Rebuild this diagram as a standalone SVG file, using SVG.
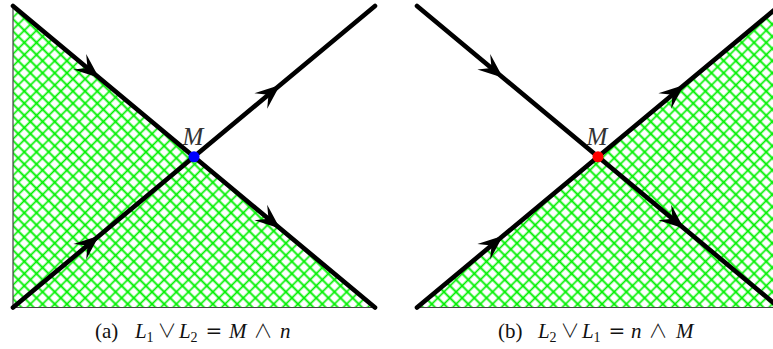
<svg xmlns="http://www.w3.org/2000/svg" xmlns:xlink="http://www.w3.org/1999/xlink" width="773" height="349" viewBox="0 0 773 349">
<style>
.hatch{fill:url(#xhatch);stroke:none}
.frame{stroke:#444;stroke-width:1.2;fill:none}
.edge{stroke:#000;stroke-width:4.6;stroke-linecap:round;fill:none}
.lbl{font-family:"Liberation Serif","DejaVu Serif",serif;font-style:italic;font-size:25px;fill:#333}
.cap{font-family:"Liberation Serif","DejaVu Serif",serif;font-size:21px;fill:#111}
.it{font-style:italic}
.sub{font-size:14px}
.op{text-anchor:middle}
.lg{font-family:"Noto Sans CJK JP","DejaVu Sans",sans-serif;font-size:19px;font-weight:300}
.eq{font-family:"DejaVu Serif","Liberation Serif",serif;font-size:20px}
</style>
<defs>
<pattern id="xhatch" patternUnits="userSpaceOnUse" width="8.6" height="8.6" patternTransform="rotate(45)">
<path d="M0 4.3H8.6M4.3 0V8.6" stroke="#00f000" stroke-width="1.7"/>
</pattern>
<path id="arrowhead" d="M0 0L-25 -10L-15 0L-25 10Z" fill="#000"/>
</defs>

<g id="panel-a">
<polygon class="hatch" points="13,6 375,307.5 13,307.5"/>
<path class="frame" d="M13 6V307.5H375"/>
<g id="connectors-a">
<line class="edge" x1="13" y1="6" x2="375" y2="307.5"/>
<line class="edge" x1="13" y1="307.5" x2="375" y2="6"/>
<use xlink:href="#arrowhead" transform="translate(99,77.7) rotate(39.79)"/>
<use xlink:href="#arrowhead" transform="translate(280,228.45) rotate(39.79)"/>
<use xlink:href="#arrowhead" transform="translate(99,235.8) rotate(-39.79)"/>
<use xlink:href="#arrowhead" transform="translate(280,85.05) rotate(-39.79)"/>
</g>
<g id="node-M-a">
<circle cx="194" cy="156.75" r="5.5" fill="#0000ff"/>
<text class="lbl" x="193" y="145" text-anchor="middle">M</text>
</g>
<text class="cap" y="338"><tspan x="95">(a)</tspan><tspan class="it" x="135">L</tspan><tspan class="sub" x="146.5" dy="4">1</tspan><tspan class="op lg" x="167" dy="-4">∨</tspan><tspan class="it" x="179">L</tspan><tspan class="sub" x="190.5" dy="4">2</tspan><tspan class="op eq" x="214" dy="-4">=</tspan><tspan class="it" x="229">M</tspan><tspan class="op lg" x="263">∧</tspan><tspan class="it" x="280">n</tspan></text>
</g>

<g id="panel-b">
<polygon class="hatch" points="417,307.5 779,6 779,307.5"/>
<path class="frame" d="M417 307.5H773"/>
<g id="connectors-b">
<line class="edge" x1="417" y1="6" x2="779" y2="307.5"/>
<line class="edge" x1="417" y1="307.5" x2="779" y2="6"/>
<use xlink:href="#arrowhead" transform="translate(503,77.7) rotate(39.79)"/>
<use xlink:href="#arrowhead" transform="translate(684,228.45) rotate(39.79)"/>
<use xlink:href="#arrowhead" transform="translate(503,235.8) rotate(-39.79)"/>
<use xlink:href="#arrowhead" transform="translate(684,85.05) rotate(-39.79)"/>
</g>
<g id="node-M-b">
<circle cx="598" cy="156.75" r="5.5" fill="#ff0000"/>
<text class="lbl" x="597" y="145" text-anchor="middle">M</text>
</g>
<text class="cap" y="338"><tspan x="498">(b)</tspan><tspan class="it" x="538">L</tspan><tspan class="sub" x="549.5" dy="4">2</tspan><tspan class="op lg" x="570" dy="-4">∨</tspan><tspan class="it" x="582">L</tspan><tspan class="sub" x="593.5" dy="4">1</tspan><tspan class="op eq" x="617" dy="-4">=</tspan><tspan class="it" x="631">n</tspan><tspan class="op lg" x="658">∧</tspan><tspan class="it" x="676">M</tspan></text>
</g>
</svg>
